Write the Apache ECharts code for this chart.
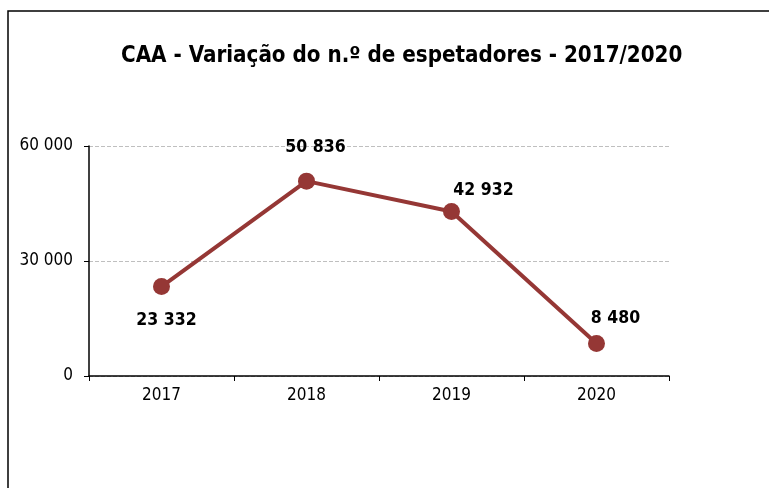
<!DOCTYPE html>
<html>
<head>
<meta charset="utf-8">
<script src="https://cdn.jsdelivr.net/npm/echarts@6/dist/echarts.min.js"></script>
<style>
  html, body { margin: 0; padding: 0; background: #fff; }
  #chart { width: 769px; height: 488px; }
</style>
</head>
<body>
<div id="chart"></div>
<script>
var years = ['2017', '2018', '2019', '2020']
var espetadores = [23332, 50836, 42932, 8480]
var labelPos = ['bottom', 'top', 'top', 'top']
var labelDist = [16, 16, 3, 8]
var labelShift = [5, 9, 32, 19]

function fmt(v) {
  return String(v).replace(/\B(?=(\d{3})+(?!\d))/g, ' ')
}

var chart = echarts.init(document.getElementById('chart'))
var font = '"DejaVu Sans Condensed", "Liberation Sans", sans-serif'

chart.setOption({
  animation: false,
  textStyle: { fontFamily: font },
  title: {
    text: 'CAA - Variação do n.º de espetadores - 2017/2020',
    left: 116,
    top: 40,
    textStyle: { fontSize: 22.2, fontWeight: 'bold', color: '#000', fontFamily: font }
  },
  graphic: [{
    type: 'rect',
    shape: { x: 8, y: 11, width: 800, height: 600 },
    style: { fill: 'none', stroke: '#000', lineWidth: 1.5 },
    silent: true
  }],
  grid: { left: 89, right: 100, top: 146, bottom: 112 },
  xAxis: {
    type: 'category',
    data: years,
    axisLine: { lineStyle: { color: '#000', width: 1.5 } },
    axisTick: { show: true, length: 5, lineStyle: { color: '#000' } },
    axisLabel: { color: '#000', fontSize: 17, margin: 11, fontFamily: font }
  },
  yAxis: {
    type: 'value',
    min: 0,
    max: 60000,
    interval: 30000,
    axisLine: { show: true, lineStyle: { color: '#000', width: 1.5 } },
    axisTick: { show: true, length: 5, lineStyle: { color: '#000' } },
    axisLabel: { color: '#000', fontSize: 17, margin: 16, fontFamily: font, formatter: fmt },
    splitLine: { lineStyle: { color: '#bfbfbf', type: 'dashed', width: 1 } }
  },
  series: [{
    type: 'line',
    data: espetadores.map(function(v, i) {
      return {
        value: v,
        label: { position: labelPos[i], distance: labelDist[i], offset: [labelShift[i], 0] }
      }
    }),
    symbol: 'circle',
    symbolSize: 17,
    lineStyle: { color: '#953735', width: 4 },
    itemStyle: { color: '#953735' },
    label: {
      show: true,
      formatter: function(p) { return fmt(p.value) },
      fontSize: 17.5,
      fontWeight: 'bold',
      color: '#000',
      fontFamily: font
    }
  }]
})
</script>
</body>
</html>
